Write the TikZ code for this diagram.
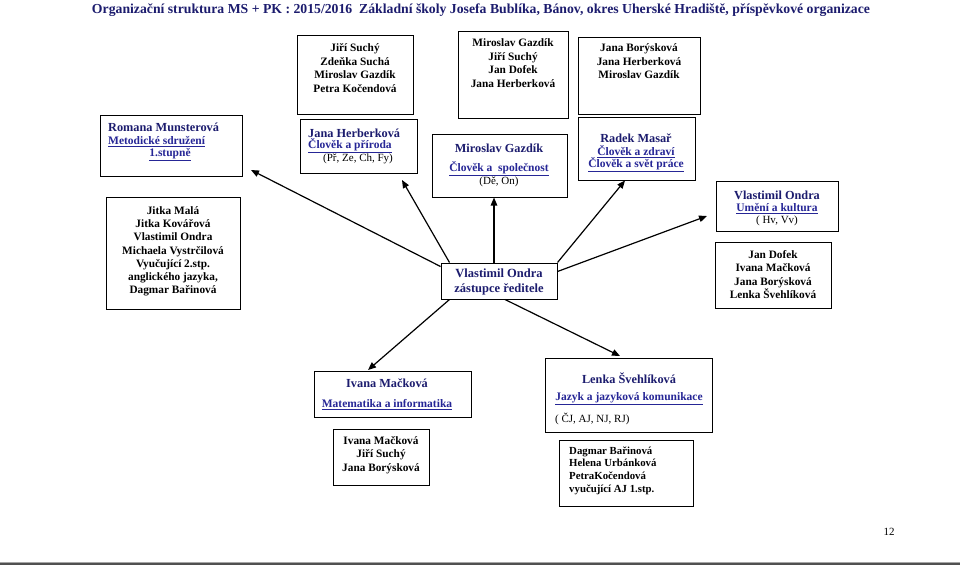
\documentclass[tikz,border=0pt]{standalone}
\usepackage{fontspec}
\setmainfont{Liberation Serif}
\usetikzlibrary{arrows.meta}
\definecolor{navy}{RGB}{28,28,110}
\definecolor{ulblue}{RGB}{38,38,150}
\definecolor{barg}{RGB}{80,80,80}
\newcommand{\myul}[1]{\underline{#1}}
\tikzset{
 box/.style={draw=black, line width=1pt, rectangle, inner sep=0pt},
 lst/.style={inner sep=0pt, align=center, font=\fontsize{11.3}{13.5}\selectfont\bfseries, text=black},
 hd/.style={inner sep=0pt, font=\fontsize{12.3}{14}\selectfont\bfseries, text=navy},
 subj/.style={inner sep=0pt, font=\fontsize{11.5}{13}\selectfont\bfseries, text=ulblue},
 paren/.style={inner sep=0pt, font=\fontsize{11}{13}\selectfont, text=black},
 arr/.style={line width=1.2pt, -{Triangle[length=8pt,width=6.5pt]}},
}
\begin{document}
\begin{tikzpicture}[x=1pt,y=-1pt]
\useasboundingbox (0,0) rectangle (960,565);
\fill[white] (0,0) rectangle (960,565);
\node[inner sep=0pt, text=navy] (title) at (481,10) {\resizebox{778pt}{!}{\fontsize{14}{16}\selectfont\bfseries Organizační struktura MS + PK : 2015/2016\ \ Základní školy Josefa Bublíka, Bánov, okres Uherské Hradiště, příspěvkové organizace}};

% top row
\node[box, minimum width=116pt, minimum height=79pt] (bA) at (355,74.5) {};
\node[lst] (tA) at (355,68) {Jiří Suchý\\Zdeňka Suchá\\Miroslav Gazdík\\Petra Kočendová};
\node[box, minimum width=110pt, minimum height=87pt] (bB) at (513,74.5) {};
\node[lst] (tB) at (513,63) {Miroslav Gazdík\\Jiří Suchý\\Jan Dofek\\Jana Herberková};
\node[box, minimum width=122pt, minimum height=77pt] (bC) at (639,75.5) {};
\node[lst] (tC) at (639,61.5) {Jana Borýsková\\Jana Herberková\\Miroslav Gazdík};

% Romana
\node[box, minimum width=142pt, minimum height=61pt] (bR) at (171,145.5) {};
\node[hd, anchor=west] (tR1) at (108,127) {Romana Munsterová};
\node[subj, anchor=west] (tR2) at (108,142) {\myul{Metodické sdružení}};
\node[subj] (tR3) at (170,155) {\myul{1.stupně}};

% Jitka
\node[box, minimum width=134pt, minimum height=112pt] (bJ) at (173,253) {};
\node[lst, font=\fontsize{11.3}{13.2}\selectfont\bfseries] (tJ) at (173,251.5) {Jitka Malá\\Jitka Kovářová\\Vlastimil Ondra\\Michaela Vystrčilová\\Vyučující 2.stp.\\anglického jazyka,\\Dagmar Bařinová};

% Herberkova
\node[box, minimum width=117pt, minimum height=54pt] (bH) at (358.5,146) {};
\node[hd, anchor=west] (tH1) at (308,133) {Jana Herberková};
\node[subj, anchor=west] (tH2) at (308,146) {\myul{Člověk a příroda}};
\node[paren, anchor=west] (tH3) at (323,159) {(Př, Ze, Ch, Fy)};

% Gazdik
\node[box, minimum width=135pt, minimum height=63pt] (bM) at (499.5,165.5) {};
\node[hd] (tM1) at (499,148) {Miroslav Gazdík};
\node[subj] (tM2) at (499,169) {\myul{Člověk a\ \ společnost}};
\node[paren] (tM3) at (499,182) {(Dě, On)};

% zastupce
\node[box, minimum width=116pt, minimum height=36pt] (bZ) at (499,281) {};
\node[hd, align=center, font=\fontsize{12.5}{15}\selectfont\bfseries] (tZ) at (499,282) {Vlastimil Ondra\\zástupce ředitele};

% Radek
\node[box, minimum width=117pt, minimum height=63pt] (bRa) at (636.5,148.5) {};
\node[hd] (tRa1) at (636,138) {Radek Masař};
\node[subj] (tRa2) at (636,152) {\myul{Člověk a zdraví}};
\node[subj] (tRa3) at (636,165) {\myul{Člověk a svět práce}};

% Umeni
\node[box, minimum width=122pt, minimum height=50pt] (bU) at (777,206) {};
\node[hd] (tU1) at (777,195) {Vlastimil Ondra};
\node[subj] (tU2) at (777,209) {\myul{Umění a kultura}};
\node[paren] (tU3) at (777,221) {( Hv, Vv)};

% Dofek
\node[box, minimum width=116pt, minimum height=66pt] (bD) at (773,275) {};
\node[lst] (tD) at (773,274.5) {Jan Dofek\\Ivana Mačková\\Jana Borýsková\\Lenka Švehlíková};

% Ivana
\node[box, minimum width=157pt, minimum height=46pt] (bI) at (392.5,394) {};
\node[hd] (tI1) at (387,383) {Ivana Mačková};
\node[subj] (tI2) at (387,405) {\myul{Matematika a informatika}};
\node[box, minimum width=96pt, minimum height=56pt] (bIL) at (381,457) {};
\node[lst] (tIL) at (381,455) {Ivana Mačková\\Jiří Suchý\\Jana Borýsková};

% Lenka
\node[box, minimum width=167pt, minimum height=74pt] (bL) at (628.5,395) {};
\node[hd] (tL1) at (629,378) {Lenka Švehlíková};
\node[subj] (tL2) at (629,399) {\myul{Jazyk a jazyková komunikace}};
\node[paren, anchor=west] (tL3) at (555,419) {( ČJ, AJ, NJ, RJ)};
\node[box, minimum width=134pt, minimum height=66pt] (bDg) at (626.5,473) {};
\node[lst, align=left, anchor=west, font=\fontsize{10.8}{12.7}\selectfont\bfseries] (tDg) at (569,470.5) {Dagmar Bařinová\\Helena Urbánková\\PetraKočendová\\vyučující AJ 1.stp.};

% page number and bar
\node[paren] (pg) at (889,532) {12};
\fill[barg] (0,562) rectangle (960,565);
\draw[gray!70, line width=0.6pt] (0,562) -- (960,562);

% arrows
\coordinate (tipR) at (251,170);
\coordinate (tipH) at (402,180);
\coordinate (tipU) at (707,216);
\coordinate (tipI) at (368,370);
\coordinate (tipL) at (620,356);
\draw[arr] ([yshift=-4pt]bZ.north west) -- (tipR);
\draw[arr] ([xshift=9pt]bZ.north west) -- (tipH);
\draw[arr] ([xshift=-5pt]bZ.north) -- ([xshift=-5.5pt]bM.south);
\draw[arr] (bZ.north east) -- ([xshift=-11.5pt]bRa.south);
\draw[arr] ([yshift=-9pt]bZ.north east) -- (tipU);
\draw[arr] ([xshift=9pt]bZ.south west) -- (tipI);
\draw[arr] ([xshift=6pt]bZ.south) -- (tipL);
\end{tikzpicture}
\end{document}
